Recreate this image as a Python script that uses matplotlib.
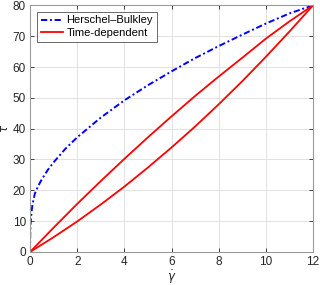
import matplotlib
matplotlib.use("Agg")
import matplotlib.pyplot as plt
import numpy as np

# Herschel-Bulkley curve
hb_rate = [0, 0.003, 0.01, 0.02, 0.04, 0.07, 0.1, 0.2, 0.35, 0.5, 0.75, 1, 1.5, 2,
           3, 4, 5, 6, 7, 8, 9, 10, 11, 12]
hb_tau = [0, 4.0, 7.0, 9.0, 11.2, 13.5, 15.3, 18.9, 21.5, 23.6, 26.6, 29.1, 33.5, 37.2,
          43.6, 49.2, 54.1, 58.6, 62.9, 66.8, 70.5, 74.1, 77.4, 80]

# Time-dependent hysteresis loop (upper and lower branches)
td_rate = [0, 1, 2, 3, 4, 5, 6, 7, 8, 9, 10, 11, 12]
td_upper = [0, 7.9, 15.6, 23.0, 30.2, 37.2, 44.0, 50.6, 56.9, 63.0, 69.2, 74.8, 80]
td_lower = [0, 4.8, 9.9, 15.4, 21.2, 27.4, 33.9, 40.7, 47.9, 55.4, 63.3, 71.5, 80]

x_ticks = [0, 2, 4, 6, 8, 10, 12]
y_ticks = [0, 10, 20, 30, 40, 50, 60, 70, 80]

plt.rcParams['font.family'] = ['Liberation Sans', 'DejaVu Sans']
plt.rcParams['mathtext.fontset'] = 'dejavusans'

fig = plt.figure(figsize=(3.2, 2.85), dpi=100)
ax = fig.add_axes([0.094, 0.116, 0.884, 0.865])

ax.plot(hb_rate, hb_tau, color='#0000ff', linewidth=1.4, dashes=(3.2, 1.4, 1.0, 1.4),
        label='Herschel\u2013Bulkley')
ax.plot(td_rate, td_upper, color='#ff0000', linewidth=1.3, label='Time-dependent')
ax.plot(td_rate, td_lower, color='#ff0000', linewidth=1.3)

ax.set_xlim(0, 12)
ax.set_ylim(0, 80)
ax.set_xticks(x_ticks)
ax.set_yticks(y_ticks)
ax.tick_params(direction='in', length=3, width=0.6, labelsize=8.5, colors='#262626',
               top=True, right=True, pad=3)
ax.grid(True, color='#dddddd', linewidth=0.6)
ax.set_axisbelow(True)
for s in ax.spines.values():
    s.set_color('#9a9a9a')
    s.set_linewidth(0.8)

ax.set_xlabel(r'$\dot{\gamma}$', fontsize=8.5, color='#262626')
ax.set_ylabel(r'$\tau$', fontsize=8.5, color='#262626')
ax.xaxis.set_label_coords(0.5, -0.068)
ax.yaxis.set_label_coords(-0.066, 0.5)

leg = ax.legend(loc='upper left', fontsize=8, frameon=True, fancybox=False,
                handlelength=2.0, handletextpad=0.3, borderpad=0.35,
                labelspacing=0.2, bbox_to_anchor=(0.025, 0.975), borderaxespad=0)
leg.get_frame().set_edgecolor('#262626')
leg.get_frame().set_linewidth(0.6)

fig.savefig('out.png', dpi=100)
